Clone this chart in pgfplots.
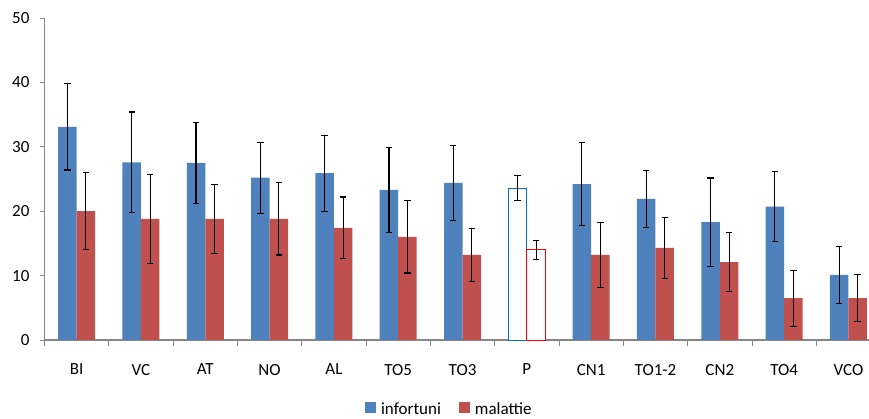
\documentclass[border=0pt]{standalone}
\usepackage{pgfplots}
\pgfplotsset{compat=1.18}
\usepackage{fontspec}
\setmainfont{Carlito}
\definecolor{cblue}{HTML}{4F81BD}
\definecolor{cred}{HTML}{C0504D}
\definecolor{pblue}{HTML}{0070C0}
\definecolor{pred}{HTML}{FF0000}
\definecolor{axgray}{HTML}{868686}
\begin{document}
\begin{tikzpicture}
\useasboundingbox (-44.5pt,-79pt) rectangle (824.5pt,340pt);
\begin{axis}[
  at={(0pt,0pt)}, anchor=south west,
  scale only axis, width=824.5pt, height=322pt,
  ybar=0pt, bar width=18.5pt,
  xmin=-0.5, xmax=12.32, ymin=0, ymax=50,
  axis lines*=left,
  axis line style={axgray},
  x axis line style={line width=1.6pt},
  y axis line style={line width=0.8pt},
  ytick={0,10,...,50},
  tick align=outside,
  major tick length=5pt,
  ytick style={axgray, line width=0.8pt},
  xtick={0,...,12},
  xticklabels={BI,VC,AT,NO,AL,TO5,TO3,P,CN1,TO1-2,CN2,TO4,VCO},
  major x tick style={draw=none},
  minor xtick={-0.5,0.5,...,11.5},
  minor tick length=6pt,
  minor x tick style={axgray, line width=0.8pt},
  xticklabel style={yshift=-15.5pt},
  yticklabel style={xshift=-6.5pt},
  ticklabel style={font=\fontsize{17}{20}\selectfont, text=black},
  /pgf/number format/assume math mode=true,
  error bars/y dir=both, error bars/y explicit,
  error bars/error bar style={black, line width=1.1pt},
  error bars/error mark options={black, line width=1.1pt, mark size=3.2pt, rotate=90},
  legend columns=2,
  legend style={at={(0.491,-0.214)}, anchor=center, draw=none, fill=none,
    font=\fontsize{17}{20}\selectfont, inner sep=0pt,
    /tikz/every odd column/.append style={column sep=3pt},
    /tikz/every even column/.append style={column sep=16pt}},
  legend image code/.code={\fill[#1,draw=none] (0pt,-4.5pt) rectangle (11pt,6.5pt);},
  clip=false,
]
\addplot[fill=cblue, draw=none, bar shift=-9.25pt] coordinates {
 (0,33.1) +- (0,6.7)
 (1,27.6) +- (0,7.8)
 (2,27.5) +- (0,6.3)
 (3,25.2) +- (0,5.5)
 (4,25.9) +- (0,5.9)
 (5,23.3) +- (0,6.6)
 (6,24.4) +- (0,5.8)
 (8,24.2) +- (0,6.4)
 (9,21.9) +- (0,4.45)
 (10,18.3) +- (0,6.85)
 (11,20.7) +- (0,5.4)
 (12,10.1) +- (0,4.45)
};
\addlegendentry{infortuni}
\addplot[fill=cred, draw=none, bar shift=9.25pt] coordinates {
 (0,20.0) +- (0,6.0)
 (1,18.8) +- (0,6.9)
 (2,18.8) +- (0,5.4)
 (3,18.8) +- (0,5.6)
 (4,17.4) +- (0,4.8)
 (5,16.0) +- (0,5.6)
 (6,13.2) +- (0,4.1)
 (8,13.2) +- (0,5.05)
 (9,14.3) +- (0,4.75)
 (10,12.1) +- (0,4.6)
 (11,6.5) +- (0,4.35)
 (12,6.5) +- (0,3.65)
};
\addlegendentry{malattie}
\addplot[fill=white, draw=pblue, line width=0.9pt, bar shift=-9.25pt, forget plot] coordinates {
 (7,23.6) +- (0,1.9)
};
\addplot[fill=white, draw=pred, line width=0.9pt, bar shift=9.25pt, forget plot] coordinates {
 (7,14.0) +- (0,1.5)
};
\end{axis}
\end{tikzpicture}
\end{document}
